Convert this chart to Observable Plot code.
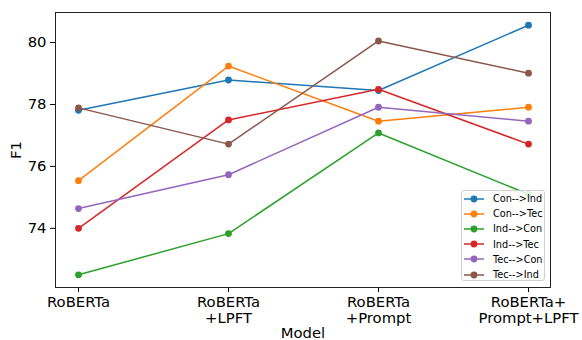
<!DOCTYPE html>
<html>
<head>
<meta charset="utf-8">
<script src="https://cdn.jsdelivr.net/npm/d3@7"></script>
<script src="https://cdn.jsdelivr.net/npm/@observablehq/plot@0.6"></script>
<style>
  body { margin: 0; background: #fff; }
  #wrap { position: relative; width: 582px; height: 340px; font-family: "DejaVu Sans", sans-serif; }
  #wrap > svg { font-family: "DejaVu Sans", sans-serif !important; font-size: 14.8px !important; }
  #wrap > svg text { font-size: 14.8px; }
  #legend { position: absolute; left: 461px; top: 190px; width: 84px; height: 91px; border: 1px solid #d0d0d0; border-radius: 3px; background: rgba(255,255,255,0.85); box-sizing: border-box; padding-top: 0px; }
  .item { display: flex; align-items: center; height: 15.2px; font-size: 9.7px; color: #000; }
  .item svg { margin-left: 1px; margin-right: 8px; }
</style>
</head>
<body>
<div id="wrap"><div id="legend"></div></div>
<script>
const models = ["RoBERTa", "RoBERTa\n+LPFT", "RoBERTa\n+Prompt", "RoBERTa+\nPrompt+LPFT"];
const seriesNames = ["Con-->Ind", "Con-->Tec", "Ind-->Con", "Ind-->Tec", "Tec-->Con", "Tec-->Ind"];
const colors = ["#1f77b4", "#ff7f0e", "#2ca02c", "#d62728", "#9467bd", "#8c564b"];
const conInd = [77.81, 78.79, 78.45, 80.56];
const conTec = [75.54, 79.24, 77.46, 77.91];
const indCon = [72.50, 73.83, 77.08, 75.10];
const indTec = [74.00, 77.50, 78.49, 76.72];
const tecCon = [74.64, 75.73, 77.91, 77.46];
const tecInd = [77.89, 76.72, 80.05, 79.01];
const yTicks = [74, 76, 78, 80];

const allValues = [conInd, conTec, indCon, indTec, tecCon, tecInd];
const data = seriesNames.flatMap((s, i) => allValues[i].map((v, j) => ({series: s, model: models[j], value: v})));

const marks = [];
seriesNames.forEach((s, i) => {
  const d = data.filter(r => r.series === s);
  marks.push(Plot.line(d, {x: "model", y: "value", stroke: colors[i], strokeWidth: 1.5}));
  marks.push(Plot.dot(d, {x: "model", y: "value", fill: colors[i], r: 3.4}));
});

const chart = Plot.plot({
  width: 582,
  height: 340,
  marginLeft: 55,
  marginRight: 32,
  marginTop: 12,
  marginBottom: 53,
  style: {fontFamily: "DejaVu Sans, sans-serif", fontSize: "14.8px", color: "#000", background: "#fff"},
  x: {type: "point", domain: models, padding: 0.147},
  y: {domain: [72.09, 80.97]},
  marks: [
    Plot.axisY({ticks: yTicks, tickSize: 5, tickPadding: 4, label: "F1", labelAnchor: "center", labelArrow: "none", labelOffset: 45, fontSize: 14.8}),
    Plot.axisX({tickSize: 5, tickPadding: 3, label: "Model", labelAnchor: "center", labelArrow: "none", labelOffset: 50, lineHeight: 1.07, fontSize: 14.8}),
    ...marks,
    Plot.frame({stroke: "#222", strokeWidth: 1})
  ]
});
document.getElementById("wrap").prepend(chart);

const legend = document.getElementById("legend");
seriesNames.forEach((s, i) => {
  const div = document.createElement("div");
  div.className = "item";
  div.innerHTML = `<svg width="22" height="10"><line x1="1" x2="21" y1="5" y2="5" stroke="${colors[i]}" stroke-width="1.5"/><circle cx="11" cy="5" r="3.4" fill="${colors[i]}"/></svg><span>${s.replace(/>/g, "&gt;")}</span>`;
  legend.appendChild(div);
});
</script>
</body>
</html>
